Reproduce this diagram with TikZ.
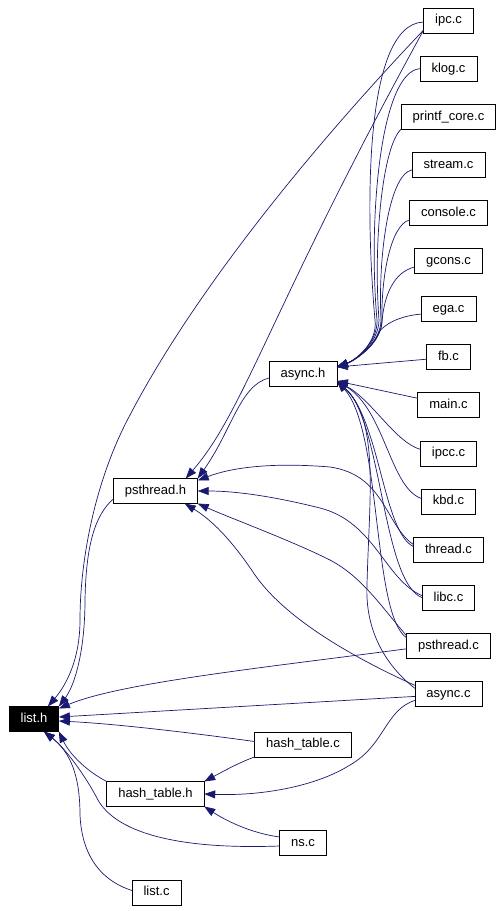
\documentclass[tikz,border=0pt]{standalone}
\usepackage{fontspec}
\setmainfont{Liberation Sans}
\usetikzlibrary{arrows.meta, positioning}
\definecolor{edgeblue}{RGB}{25,25,112}

\begin{document}
\begin{tikzpicture}[x=1pt, y=-1pt, node distance=23.1pt,
    file/.style={draw, line width=0.8pt, outer sep=0pt, minimum height=25pt, inner xsep=11.5pt,
        text height=9.6pt, text depth=2.8pt, font=\fontsize{13}{15}\selectfont},
    root/.style={file, fill=black, text=white},
    incl/.style={draw=edgeblue, line width=0.7pt,
        -{Triangle[length=11pt, width=8pt, fill=edgeblue]}}]
    \useasboundingbox (0,0) rectangle (503,911);

    \node[root] (listh) at (34,719) {list.h};
    \node[file] (psthreadh) at (155.5,491) {psthread.h};
    \node[file] (hashtableh) at (155.5,794) {hash\_table.h};
    \node[file] (listc) at (156.5,892.5) {list.c};
    \node[file] (asynch) at (303,374) {async.h};
    \node[file] (hashtablec) at (303,744.5) {hash\_table.c};
    \node[file] (nsc) at (303,843) {ns.c};

    \node[file] (ipc) at (448.5,20.5) {ipc.c};
    \node[file, below=of ipc] (klog) {klog.c};
    \node[file, below=of klog] (printfcore) {printf\_core.c};
    \node[file, below=of printfcore] (stream) {stream.c};
    \node[file, below=of stream] (console) {console.c};
    \node[file, below=of console] (gcons) {gcons.c};
    \node[file, below=of gcons] (ega) {ega.c};
    \node[file, below=of ega] (fb) {fb.c};
    \node[file, below=of fb] (mainc) {main.c};
    \node[file, below=of mainc] (ipcc) {ipcc.c};
    \node[file, below=of ipcc] (kbd) {kbd.c};
    \node[file, below=of kbd] (threadc) {thread.c};
    \node[file, below=of threadc] (libc) {libc.c};
    \node[file, below=of libc] (psthreadc) {psthread.c};
    \node[file, below=of psthreadc] (asyncc) {async.c};

    \draw[incl] ([yshift=3pt]ipc.south west) .. controls (300,160) and (190,300) .. (130,415)
        .. controls (95,480) and (80,560) .. (80,620) .. controls (80,665) and (62,690) .. ([xshift=-11pt]listh.north east);
    \draw[incl] ([yshift=-8pt]psthreadh.west) .. controls (95,515) and (86,545) .. (85,600)
        .. controls (85,650) and (75,685) .. (listh.north east);
    \draw[incl] ([yshift=-3pt]psthreadc.west) .. controls (260,668) and (120,683) .. ([yshift=-2pt]listh.north east);
    \draw[incl] ([yshift=-2.5pt]asyncc.west) -- ([yshift=2pt]listh.east);
    \draw[incl] ([yshift=3pt]hashtablec.west) .. controls (200,734) and (120,724) .. ([yshift=-2pt]listh.east);
    \draw[incl] (hashtableh.north west) .. controls (88,772) and (70,755) .. (listh.south east);
    \draw[incl] ([yshift=-3pt]nsc.west) .. controls (170,850) and (115,830) .. (98,800)
        .. controls (85,775) and (65,748) .. ([xshift=-15pt]listh.south east);
    \draw[incl] ([yshift=2pt]listc.west) .. controls (105,882) and (82,860) .. (80,815)
        .. controls (80,775) and (70,752) .. ([xshift=-15pt]listh.south east);

    \draw[incl] (hashtablec.south west) .. controls (240,762) and (222,772) .. (hashtableh.north east);
    \draw[incl] ([yshift=-6.5pt]asyncc.west) .. controls (385,710) and (385,745) .. (350,765)
        .. controls (315,787) and (260,796) .. (hashtableh.east);
    \draw[incl] ([yshift=6pt]nsc.west) .. controls (250,833) and (225,820) .. (hashtableh.south east);

    \draw[incl] ([yshift=3pt]ipc.south west) .. controls (270,310) and (245,410) .. ([xshift=-12pt]psthreadh.north east);
    \draw[incl] ([yshift=-4pt]asynch.west) .. controls (240,385) and (232,430) .. (psthreadh.north east);
    \draw[incl] ([yshift=5pt]threadc.west) .. controls (385,525) and (385,475) .. (330,467)
        .. controls (270,462) and (230,468) .. ([yshift=-2pt]psthreadh.north east);
    \draw[incl] ([yshift=2pt]libc.west) .. controls (385,580) and (375,522) .. (320,508)
        .. controls (280,498) and (240,491) .. (psthreadh.east);
    \draw[incl] ([yshift=10pt]psthreadc.west) .. controls (380,605) and (362,577) .. (330,560)
        .. controls (290,540) and (230,518) .. (psthreadh.south east);
    \draw[incl] ([yshift=8.5pt]asyncc.west) .. controls (370,665) and (290,625) .. (255,575)
        .. controls (235,545) and (215,522) .. ([xshift=-13pt]psthreadh.south east);

    \draw[incl] ([yshift=-1.5pt]ipc.west) .. controls (362,24) and (366,220) .. (375,320)
        .. controls (378,342) and (356,360) .. ([yshift=7pt]asynch.east);
    \draw[incl] (klog.west) .. controls (380,72) and (368,220) .. (377,320)
        .. controls (378,342) and (356,360) .. ([yshift=7pt]asynch.east);
    \draw[incl] (printfcore.south west) .. controls (383,145) and (373,240) .. (379,320)
        .. controls (379,342) and (356,360) .. ([yshift=7pt]asynch.east);
    \draw[incl] ([yshift=-5pt]stream.west) .. controls (388,175) and (378,260) .. (381,320)
        .. controls (381,342) and (356,360) .. ([yshift=7pt]asynch.east);
    \draw[incl] ([yshift=-7pt]console.west) .. controls (390,225) and (381,280) .. (382,320)
        .. controls (382,342) and (356,360) .. ([yshift=7pt]asynch.east);
    \draw[incl] ([yshift=-6pt]gcons.west) .. controls (394,272) and (384,295) .. (382,322)
        .. controls (381,342) and (356,360) .. ([yshift=7pt]asynch.east);
    \draw[incl] ([yshift=-5pt]ega.west) .. controls (398,316) and (384,325) .. (379,332)
        .. controls (376,345) and (356,360) .. ([yshift=7pt]asynch.east);
    \draw[incl] ([yshift=-2pt]fb.west) -- ([yshift=7pt]asynch.east);

    \draw[incl] ([yshift=7pt]mainc.west) -- ([yshift=-7pt]asynch.east);
    \draw[incl] ([yshift=4pt]ipcc.west) .. controls (395,442) and (372,400) .. ([yshift=-7pt]asynch.east);
    \draw[incl] ([yshift=3pt]kbd.west) .. controls (390,488) and (385,410) .. ([yshift=-7pt]asynch.east);
    \draw[incl] ([yshift=3pt]threadc.west) .. controls (383,532) and (380,420) .. ([yshift=-7pt]asynch.east);
    \draw[incl] (libc.west) .. controls (382,582) and (382,420) .. ([yshift=-7pt]asynch.east);
    \draw[incl] ([yshift=8pt]psthreadc.west) .. controls (372,615) and (382,430) .. ([yshift=-7pt]asynch.east);
    \draw[incl] ([yshift=5.5pt]asyncc.west) .. controls (385,665) and (365,630) .. (367,585)
        .. controls (369,500) and (380,420) .. ([yshift=-7pt]asynch.east);
\end{tikzpicture}
\end{document}
